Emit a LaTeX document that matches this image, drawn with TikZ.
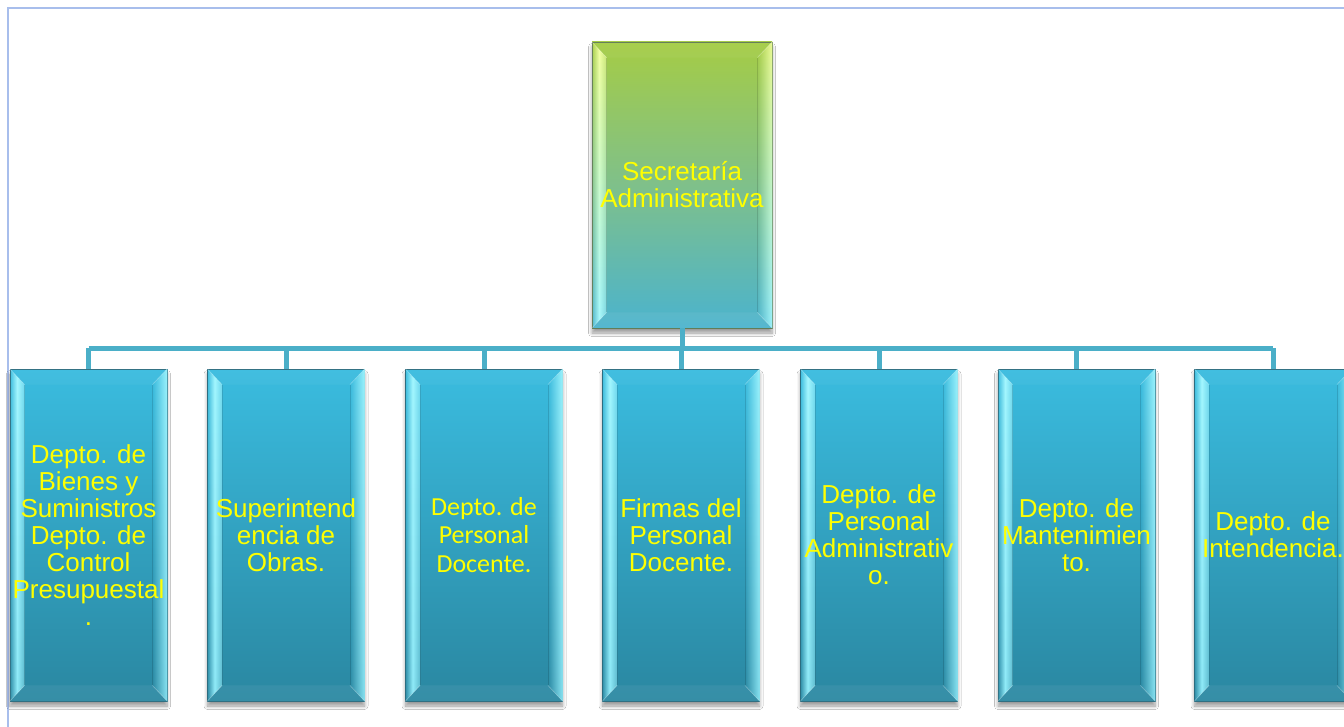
\documentclass[tikz,border=0pt]{standalone}
\usepackage{fontspec}
\setmainfont{Liberation Sans}
\newfontfamily\calibrifont{Carlito}
\usetikzlibrary{shadows.blur,fadings}

\definecolor{framecol}{HTML}{A8BEEC}
\definecolor{linkcol}{HTML}{4BAFC8}
\definecolor{deptop}{HTML}{3ABCDF}
\definecolor{depbot}{HTML}{2A87A1}
\definecolor{depedge}{HTML}{2C6D80}
\definecolor{dephlT}{HTML}{A4F7FF}
\definecolor{dephlB}{HTML}{8FEAF8}
\definecolor{sectop}{HTML}{A5CC45}
\definecolor{secmid}{HTML}{7FC08A}
\definecolor{secbot}{HTML}{4BB3CD}
\definecolor{secedge}{HTML}{5F7A55}
\definecolor{sechlT}{HTML}{F2FF9E}
\definecolor{sechlB}{HTML}{A6F8FF}
\definecolor{labelcol}{HTML}{FFFF00}

% highlight bands of the bevel facets
\tikzfading[name=rise right, left color=transparent!100, right color=transparent!0]
\tikzfading[name=peak band, left color=transparent!100, right color=transparent!50,
  middle color=transparent!0]

\begin{document}
\begin{tikzpicture}[x=1pt,y=-1pt,
  box/.style={minimum width=157pt, minimum height=332pt, inner sep=0pt,
    draw=depedge, line width=0.9pt,
    blur shadow={shadow xshift=0pt, shadow yshift=-5pt, shadow blur steps=8,
      shadow opacity=40, shadow blur radius=3.5pt}},
  dept/.style={box, top color=deptop, bottom color=depbot},
  head/.style={box, minimum width=180pt, minimum height=286pt, draw=secedge,
    top color=sectop, bottom color=secbot, middle color=secmid},
  label/.style={text=labelcol, align=center, inner sep=0pt,
    font=\fontsize{26}{26.9}\selectfont},
  clabel/.style={label, font=\calibrifont\fontsize{26}{28.5}\selectfont},
  conn/.style={draw=linkcol, line width=5pt},
]
\path[use as bounding box, fill=white] (0,0) rectangle (1344,727);

% page frame
\draw[framecol, line width=1.5pt] (8,727) -- (8,8) -- (1344,8);

% junction line of the chart
\coordinate (bus) at (682,348);

% boxes
\node[head] (head) at (682,185) {};
\node[dept] (d1) at (88.5,535) {};
\node[dept] (d2) at (286,535) {};
\node[dept] (d3) at (484,535) {};
\node[dept] (d4) at (681,535) {};
\node[dept] (d5) at (879,535) {};
\node[dept] (d6) at (1076.5,535) {};
\node[dept] (d7) at (1273,535) {};

% bevel facets
\foreach \n/\hiT/\hiB in {head/sechlT/sechlB, d1/dephlT/dephlB, d2/dephlT/dephlB,
    d3/dephlT/dephlB, d4/dephlT/dephlB, d5/dephlT/dephlB, d6/dephlT/dephlB,
    d7/dephlT/dephlB} {
  \coordinate (fa) at ([shift={(15,16)}]\n.north west);
  \coordinate (fb) at ([shift={(-15,16)}]\n.north east);
  \coordinate (fc) at ([shift={(-15,-16)}]\n.south east);
  \coordinate (fe) at ([shift={(15,-16)}]\n.south west);
  % top and bottom facets
  \fill[white, fill opacity=0.04] (\n.north west) -- (\n.north east) -- (fb) -- (fa) -- cycle;
  \fill[white, fill opacity=0.06] (\n.south west) -- (\n.south east) -- (fc) -- (fe) -- cycle;
  % left facet: bright band close to the inner edge
  \shade[top color=\hiT, bottom color=\hiB, path fading=peak band]
    (\n.north west) -- (fa) -- (fe) -- (\n.south west) -- cycle;
  % right facet: brightening towards the outer edge
  \shade[top color=\hiT, bottom color=\hiB, path fading=rise right, fill opacity=0.95]
    (\n.north east) -- (fb) -- (fc) -- (\n.south east) -- cycle;
  % facet seams
  \draw[black, opacity=0.12, line width=0.8pt] (fa) -- (fe) (fb) -- (fc);
  \draw[white, opacity=0.3, line width=0.6pt]
    (\n.north west) -- (fa) (\n.north east) -- (fb) (\n.south east) -- (fc) (\n.south west) -- (fe);
}

% connectors
\draw[conn] (head.south) -- (head.south |- bus);
\draw[conn] (d1.north |- bus) -- (d7.north |- bus);
\foreach \n in {d1,d2,d3,d4,d5,d6,d7}
  \draw[conn] (\n.north |- bus) -- (\n.north);

% labels
\node[label] (t0) at (head) {Secretaría\\Administrativa};
\node[label] (t1) at (d1) {Depto. de\\Bienes y\\Suministros\\Depto. de\\Control\\Presupuestal\\.};
\node[label] (t2) at (d2) {Superintend\\encia de\\Obras.};
\node[clabel] (t3) at (d3) {Depto. de\\Personal\\Docente.};
\node[label] (t4) at (d4) {Firmas del\\Personal\\Docente.};
\node[label] (t5) at (d5) {Depto. de\\Personal\\Administrativ\\o.};
\node[label] (t6) at (d6) {Depto. de\\Mantenimien\\to.};
\node[label] (t7) at (d7) {Depto. de\\Intendencia.};
\end{tikzpicture}
\end{document}
